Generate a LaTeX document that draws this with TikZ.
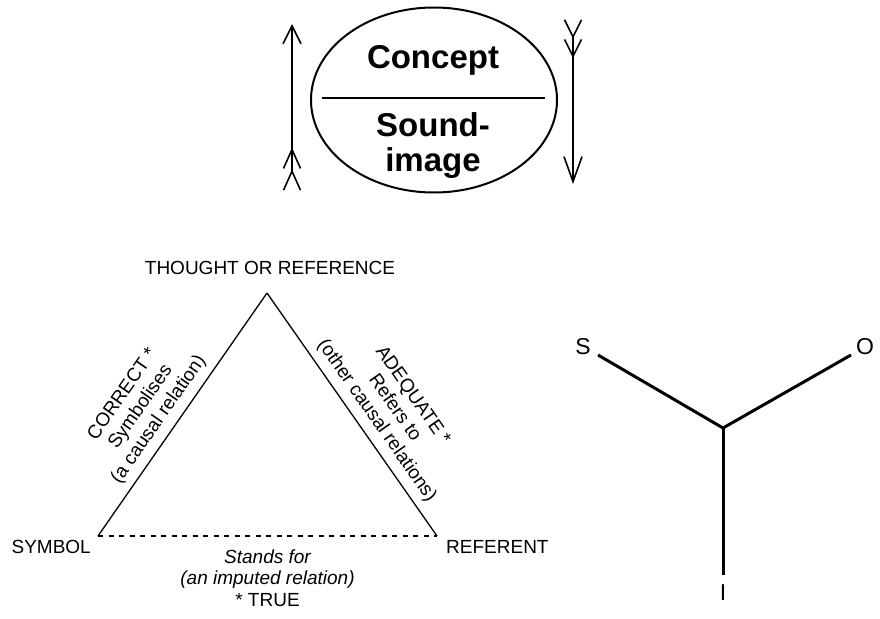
\documentclass[tikz,border=0pt]{standalone}
\usepackage{fontspec}
\setmainfont{Liberation Sans}
\usetikzlibrary{arrows.meta,positioning,shapes.geometric}

\begin{document}
\begin{tikzpicture}[x=1pt, y=-1pt, font=\fontsize{19}{22}\selectfont]

    % Estilos
    \tikzstyle{flecha}=[line width=1.6pt]
    \tikzstyle{lado}=[line width=1.3pt]
    \tikzstyle{rama}=[line width=3pt]
    \tikzstyle{etiqueta}=[inner sep=0pt, align=center]

    \useasboundingbox (0,0) rectangle (880,618);

    % Signo de Saussure
    \node[ellipse, draw, line width=2pt, minimum width=246pt, minimum height=185pt] (signo) at (434,100) {};
    \node[font=\fontsize{33}{35}\bfseries] (concepto) at (433,60) {Concept};
    \node[font=\fontsize{33}{35}\bfseries, align=center] (imagen) at (433,146) {Sound-\\image};
    \coordinate (barraA) at (322,98);
    \coordinate (barraB) at (545,98);
    \draw[line width=1.5pt] (barraA) -- (barraB);

    \coordinate (izqA) at (292,182);
    \coordinate (izqB) at (292,24);
    \coordinate (derA) at (573,25);
    \coordinate (derB) at (573,184);
    \draw[flecha, arrows={{Straight Barb[reversed, length=19pt, width=17pt, sep=-9pt] Straight Barb[reversed, length=19pt, width=17pt]}-{Straight Barb[length=18pt, width=18pt]}}] (izqA) -- (izqB);
    \draw[flecha, arrows={{Straight Barb[reversed, length=17pt, width=17pt, sep=-6pt] Straight Barb[reversed, length=17pt, width=17pt]}-{Straight Barb[length=25pt, width=18pt]}}] (derA) -- (derB);

    % Triangulo semiotico
    \coordinate (pensamiento) at (267,293);
    \coordinate (simbolo) at (98,536);
    \coordinate (referente) at (437,536);

    \node[etiqueta] (T) at (270,268) {THOUGHT OR REFERENCE};
    \node[etiqueta, anchor=east] (S) at (91,547) {SYMBOL};
    \node[etiqueta, anchor=west] (R) at (446,547) {REFERENT};

    \draw[lado] (simbolo) -- node[etiqueta, sloped, above=7pt, pos=0.44] {CORRECT *\\Symbolises\\(a causal relation)} (pensamiento);
    \draw[lado] (pensamiento) -- node[etiqueta, sloped, above=7pt, pos=0.565] {ADEQUATE *\\Refers to\\(other causal relations)} (referente);
    \draw[lado, dash pattern=on 5pt off 5.5pt] (simbolo) -- node[etiqueta, below=13pt, font=\fontsize{19}{21.5}\selectfont] {\itshape Stands for\\\itshape (an imputed relation)\\* TRUE} (referente);

    % Triada S-O-I
    \coordinate (centro) at (723,428);
    \node[inner sep=0pt, font=\fontsize{23}{26}\selectfont] (s) at (583,347) {S};
    \node[inner sep=0pt, font=\fontsize{23}{26}\selectfont] (o) at (865,347) {O};
    \node[inner sep=0pt, font=\fontsize{23}{26}\selectfont] (i) at (723,593) {I};
    \coordinate (sfin) at (598,355);
    \coordinate (ofin) at (851,355);
    \coordinate (ifin) at (723,575);
    \draw[rama] (sfin) -- (centro) -- (ofin);
    \draw[rama] (centro) -- (ifin);
\end{tikzpicture}
\end{document}
